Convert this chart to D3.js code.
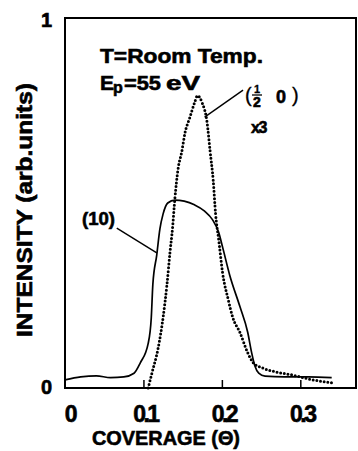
<!DOCTYPE html>
<html>
<head>
<script src="https://d3js.org/d3.v7.min.js"></script>
<style>
body { margin: 0; background: #fff; }
text { font-family: "Liberation Sans", Arial, sans-serif; font-weight: bold; fill: #000; stroke: #000; stroke-width: 0.6px; }
</style>
</head>
<body>
<div id="chart"></div>
<script>
// (10) beam, solid line
const cov10 = [0, 0.02, 0.04, 0.058, 0.075, 0.088, 0.096, 0.106, 0.110, 0.112, 0.117, 0.121, 0.125, 0.131, 0.140, 0.152, 0.165, 0.178, 0.188, 0.196, 0.201, 0.210, 0.223, 0.233, 0.238, 0.242, 0.247, 0.255, 0.28, 0.31, 0.34];
const int10 = [0.022, 0.03, 0.033, 0.028, 0.030, 0.04, 0.068, 0.12, 0.19, 0.28, 0.36, 0.43, 0.47, 0.50, 0.508, 0.505, 0.495, 0.478, 0.455, 0.42, 0.38, 0.305, 0.22, 0.15, 0.095, 0.06, 0.04, 0.032, 0.030, 0.030, 0.028];

// (1/2 0) beam x3, dotted line
const covHalf = [0.106, 0.112, 0.118, 0.125, 0.130, 0.134, 0.137, 0.140, 0.144, 0.149, 0.153, 0.159, 0.165, 0.169, 0.175, 0.181, 0.185, 0.189, 0.192, 0.196, 0.201, 0.208, 0.214, 0.223, 0.233, 0.240, 0.252, 0.270, 0.290, 0.316, 0.340];
const intHalf = [0, 0.05, 0.10, 0.19, 0.28, 0.37, 0.43, 0.51, 0.59, 0.64, 0.69, 0.73, 0.77, 0.79, 0.77, 0.72, 0.64, 0.56, 0.47, 0.40, 0.31, 0.24, 0.19, 0.15, 0.095, 0.068, 0.054, 0.043, 0.035, 0.022, 0.014];

const xTicks = [0, 0.1, 0.2, 0.3];
const xTickLabels = ["0", "0.1", "0.2", "0.3"];
const yTicks = [0, 1];

const svg = d3.select("#chart").append("svg")
  .attr("width", 358)
  .attr("height", 451);

const x = d3.scaleLinear().domain([0, 0.371]).range([65, 356]);
const y = d3.scaleLinear().domain([0, 1]).range([388, 18]);

// frame
svg.append("rect")
  .attr("x", x(0)).attr("y", y(1))
  .attr("width", x(0.371) - x(0)).attr("height", y(0) - y(1))
  .attr("fill", "none").attr("stroke", "#000").attr("stroke-width", 2);

// inner ticks on the bottom
svg.append("g")
  .attr("transform", `translate(0,${y(0)})`)
  .call(d3.axisBottom(x).tickValues(xTicks.slice(1)).tickSizeInner(-8).tickSizeOuter(0).tickFormat(""))
  .call(g => g.select(".domain").remove())
  .call(g => g.selectAll("line").attr("stroke-width", 1.5));

// x tick labels
svg.append("g").selectAll("text")
  .data(xTicks)
  .enter().append("text")
  .attr("x", d => x(d) + (d === 0 ? 5 : 2))
  .attr("y", 422)
  .attr("text-anchor", "middle")
  .style("font-size", "23px")
  .style("letter-spacing", "-2.5px")
  .text((d, i) => xTickLabels[i]);

// y tick labels
svg.append("g").selectAll("text")
  .data(yTicks)
  .enter().append("text")
  .attr("x", 52)
  .attr("y", d => y(d) + (d === 0 ? 6 : 9))
  .attr("text-anchor", "end")
  .style("font-size", "20px")
  .text(d => d);

const line = d3.line()
  .x(d => x(d[0]))
  .y(d => y(d[1]))
  .curve(d3.curveMonotoneX);

svg.append("path")
  .datum(cov10.map((c, i) => [c, int10[i]]))
  .attr("fill", "none")
  .attr("stroke", "#000")
  .attr("stroke-width", 1.7)
  .attr("d", line);

svg.append("path")
  .datum(covHalf.map((c, i) => [c, intHalf[i]]))
  .attr("fill", "none")
  .attr("stroke", "#000")
  .attr("stroke-width", 3)
  .attr("stroke-linecap", "round")
  .attr("stroke-dasharray", "0 3.7")
  .attr("d", line);

// leader lines
svg.append("line")
  .attr("x1", x(0.066)).attr("y1", y(0.432))
  .attr("x2", x(0.117)).attr("y2", y(0.365))
  .attr("stroke", "#000").attr("stroke-width", 1.4);
svg.append("line")
  .attr("x1", x(0.227)).attr("y1", y(0.805))
  .attr("x2", x(0.178)).attr("y2", y(0.732))
  .attr("stroke", "#000").attr("stroke-width", 1.4);

// annotations
svg.append("text")
  .attr("x", 100).attr("y", 63)
  .attr("textLength", 163).attr("lengthAdjust", "spacingAndGlyphs")
  .style("font-size", "21px")
  .text("T=Room Temp.");

svg.append("text")
  .attr("x", 100).attr("y", 90)
  .style("font-size", "21px")
  .text("E");
svg.append("text")
  .attr("x", 113).attr("y", 93)
  .style("font-size", "16px")
  .text("p");
svg.append("text")
  .attr("x", 124).attr("y", 90)
  .attr("textLength", 37).attr("lengthAdjust", "spacingAndGlyphs")
  .style("font-size", "21px")
  .text("=55");
svg.append("text")
  .attr("x", 166).attr("y", 90)
  .attr("textLength", 34).attr("lengthAdjust", "spacingAndGlyphs")
  .style("font-size", "20px")
  .text("eV");

svg.append("text")
  .attr("x", 82).attr("y", 225)
  .attr("textLength", 33).attr("lengthAdjust", "spacingAndGlyphs")
  .style("font-size", "18px")
  .text("(10)");

svg.append("text")
  .attr("x", 245).attr("y", 102)
  .style("font-size", "20px")
  .style("font-weight", "normal")
  .style("stroke-width", "0.3px")
  .text("(");
svg.append("text")
  .attr("x", 257).attr("y", 93)
  .attr("text-anchor", "middle")
  .style("font-size", "11px")
  .style("stroke-width", "0.3px")
  .text("1");
svg.append("line")
  .attr("x1", 252).attr("x2", 262).attr("y1", 95).attr("y2", 95)
  .attr("stroke", "#000").attr("stroke-width", 1.3);
svg.append("text")
  .attr("x", 257).attr("y", 107)
  .attr("text-anchor", "middle")
  .style("font-size", "14px")
  .text("2");
svg.append("text")
  .attr("x", 276).attr("y", 103)
  .style("font-size", "18px")
  .text("0");
svg.append("text")
  .attr("x", 292).attr("y", 102)
  .style("font-size", "20px")
  .style("font-weight", "normal")
  .style("stroke-width", "0.3px")
  .text(")");
svg.append("text")
  .attr("x", 251).attr("y", 133)
  .style("font-size", "16px")
  .style("letter-spacing", "-1.5px")
  .text("x3");

// axis titles
svg.append("text")
  .attr("x", 92).attr("y", 445)
  .attr("textLength", 148).attr("lengthAdjust", "spacingAndGlyphs")
  .style("font-size", "20px")
  .text("COVERAGE (Θ)");

svg.append("text")
  .attr("transform", "translate(32,337) rotate(-90)")
  .attr("textLength", 254).attr("lengthAdjust", "spacingAndGlyphs")
  .style("font-size", "22px")
  .text("INTENSITY (arb.units)");
</script>
</body>
</html>
